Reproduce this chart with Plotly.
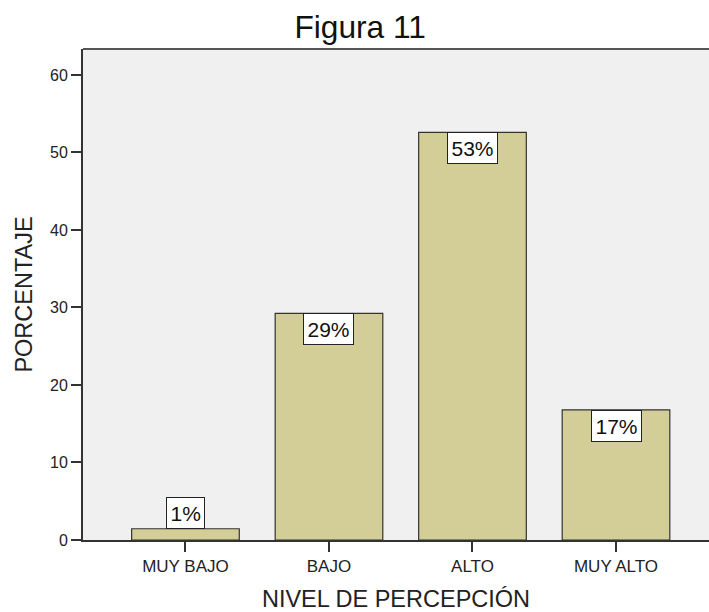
import plotly.graph_objects as go

categories = ["MUY BAJO", "BAJO", "ALTO", "MUY ALTO"]
values = [1.45, 29.25, 52.6, 16.8]
labels = ["1%", "29%", "53%", "17%"]
y_ticks = [0, 10, 20, 30, 40, 50, 60]

FONT = "Liberation Sans, Arial, sans-serif"

fig = go.Figure()
fig.add_trace(go.Bar(
    x=categories, y=values, width=0.75,
    marker=dict(color="#D3CE97", line=dict(color="#333333", width=1.2)),
    hoverinfo="skip",
))

for c, v, t in zip(categories, values, labels):
    inside = v > 5
    fig.add_annotation(
        x=c, y=v, text=t, showarrow=False,
        yanchor="top" if inside else "bottom",
        bgcolor="white", bordercolor="#222222", borderwidth=1, borderpad=3.5,
        font=dict(family=FONT, size=21, color="#111111"),
    )

fig.add_shape(type="line", xref="paper", yref="paper", x0=0, x1=1, y0=1, y1=1,
              line=dict(color="#555555", width=2))

fig.update_layout(
    width=709, height=612,
    margin=dict(l=83, r=0, t=49, b=72),
    paper_bgcolor="white", plot_bgcolor="#F0F0F0",
    showlegend=False,
    title=dict(text="Figura 11", x=0.508, xanchor="center", y=0.974, yanchor="top",
               font=dict(family=FONT, size=31.7, color="#111111")),
    font=dict(family=FONT, color="#222222"),
)
fig.update_xaxes(
    range=[-0.714, 3.648], showline=True, linecolor="#333333", linewidth=2,
    ticks="outside", ticklen=10, tickcolor="#333333", tickwidth=1.5,
    tickfont=dict(family=FONT, size=17, color="#222222"),
    showgrid=False, zeroline=False,
    title=dict(text="NIVEL DE PERCEPCIÓN", standoff=16,
               font=dict(family=FONT, size=23.5, color="#222222")),
)
fig.update_yaxes(
    range=[0, 63.35], tickvals=y_ticks, showline=True, linecolor="#333333", linewidth=2,
    ticks="outside", ticklen=10, tickcolor="#333333", tickwidth=1.5,
    tickfont=dict(family=FONT, size=16, color="#222222"),
    showgrid=False, zeroline=False,
    title=dict(text="PORCENTAJE", standoff=11,
               font=dict(family=FONT, size=23.5, color="#222222")),
)

fig.write_html(
    "out.html",
    config={"displayModeBar": False},
    post_script="document.body.style.margin='0';document.body.style.overflow='hidden';",
)
